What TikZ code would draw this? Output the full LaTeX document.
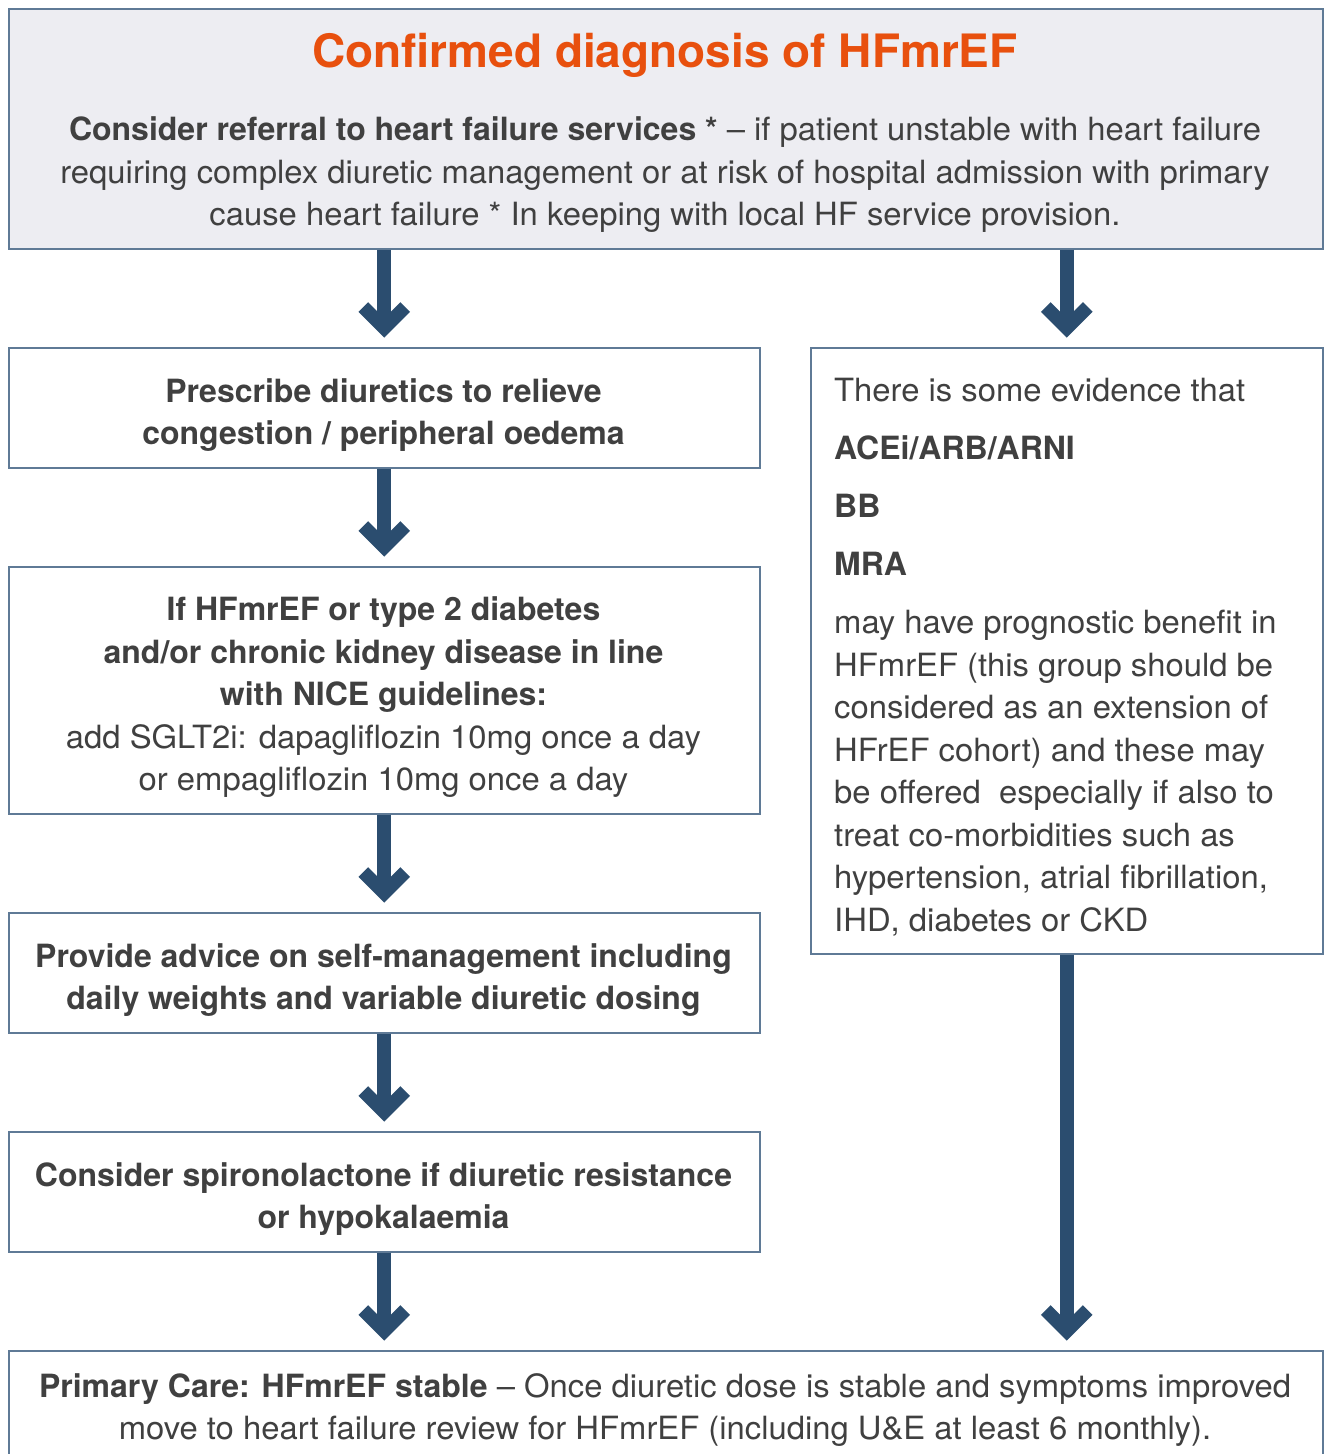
\documentclass[tikz,border=0pt]{standalone}
\usepackage{fontspec}
\setmainfont{TeX Gyre Heros}[UprightFeatures={FakeStretch=1.025}]
\definecolor{txt}{HTML}{404040}
\definecolor{ttl}{HTML}{E8500E}
\definecolor{bord}{HTML}{5F7A96}
\definecolor{arr}{HTML}{2B4D6F}
\definecolor{topfill}{HTML}{EDEDF2}
\newcommand{\hfarrow}[2]{%
  \draw[shaft] (#1) -- ([yshift=19pt]#2);
  \draw[head] ([xshift=-21pt,yshift=40pt]#2) -- ([yshift=19pt]#2) -- ([xshift=21pt,yshift=40pt]#2);}
\begin{document}
\begin{tikzpicture}[x=1pt,y=-1pt,
  box/.style={draw=bord, line width=1.5pt, inner sep=0pt, anchor=north west},
  txtnode/.style={text=txt, inner sep=0pt, font=\fontsize{32}{42.5}\selectfont},
  shaft/.style={draw=arr, line width=14pt},
  head/.style={draw=arr, line width=13.5pt, line join=miter, line cap=butt}]
\clip (0,0) rectangle (1324,1454);
\fill[white] (0,0) rectangle (1324,1454);
% top box
\node[box, fill=topfill, minimum width=1314pt, minimum height=240pt] (top) at (8,8) {};
\node[text=ttl, inner sep=0pt, font=\fontsize{46}{50}\selectfont\bfseries] (title) at (665,55) {Confirmed diagnosis of HFmrEF};
\node[txtnode, align=center] (topbody) at (665,175) {\textbf{Consider referral to heart failure services *} – if patient unstable with heart failure\\requiring complex diuretic management or at risk of hospital admission with primary\\cause heart failure * In keeping with local HF service provision.};
% left column
\node[box, minimum width=751pt, minimum height=120pt] (b1) at (8,347) {};
\node[txtnode, align=center, font=\fontsize{32}{42.5}\selectfont\bfseries] (t1) at (383.5,415) {Prescribe diuretics to relieve\\congestion / peripheral oedema};
\node[box, minimum width=751pt, minimum height=247pt] (b2) at (8,566) {};
\node[txtnode, align=center] (t2) at (383.5,697.5) {\textbf{If HFmrEF or type 2 diabetes}\\\textbf{and/or chronic kidney disease in line}\\\textbf{with NICE guidelines:}\\add SGLT2i: dapagliflozin 10mg once a day\\or empagliflozin 10mg once a day};
\node[box, minimum width=751pt, minimum height=120pt] (b3) at (8,912) {};
\node[txtnode, align=center, font=\fontsize{32}{42.5}\selectfont\bfseries] (t3) at (383.5,980) {Provide advice on self-management including\\daily weights and variable diuretic dosing};
\node[box, minimum width=751pt, minimum height=120pt] (b4) at (8,1131) {};
\node[txtnode, align=center, font=\fontsize{32}{42.5}\selectfont\bfseries] (t4) at (383.5,1199) {Consider spironolactone if diuretic resistance\\or hypokalaemia};
% right column
\node[box, minimum width=512pt, minimum height=606pt] (r) at (810,347) {};
\node[txtnode, align=left, anchor=north west] (rt) at (834,378) {There is some evidence that\\[15.5pt]\textbf{ACEi/ARB/ARNI}\\[15.5pt]\textbf{BB}\\[15.5pt]\textbf{MRA}\\[15.5pt]may have prognostic benefit in\\HFmrEF (this group should be\\considered as an extension of\\HFrEF cohort) and these may\\be offered\ \ especially if also to\\treat co-morbidities such as\\hypertension, atrial fibrillation,\\IHD, diabetes or CKD};
% bottom box
\node[box, minimum width=1314pt, minimum height=130pt] (bot) at (8,1350) {};
\node[txtnode, align=center] (bt) at (665,1410) {\textbf{Primary Care: HFmrEF stable} – Once diuretic dose is stable and symptoms improved\\move to heart failure review for HFmrEF (including U\&E at least 6 monthly).};
% arrows
\hfarrow{top.south -| b1.north}{b1.north}
\hfarrow{top.south -| r.north}{r.north}
\hfarrow{b1.south}{b2.north}
\hfarrow{b2.south}{b3.north}
\hfarrow{b3.south}{b4.north}
\hfarrow{b4.south}{bot.north -| b4.south}
\hfarrow{r.south}{bot.north -| r.south}
\end{tikzpicture}
\end{document}
